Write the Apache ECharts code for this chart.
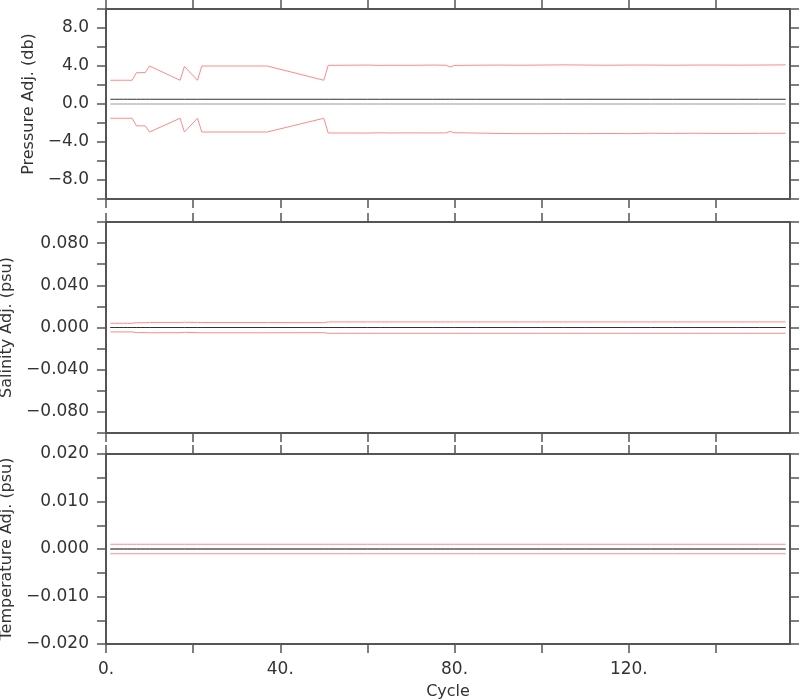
<!DOCTYPE html>
<html>
<head>
<meta charset="utf-8">
<script src="https://cdn.jsdelivr.net/npm/echarts@6/dist/echarts.min.js"></script>
<style>
html,body{margin:0;padding:0;background:#fff;}
#chart{width:800px;height:700px;}
</style>
</head>
<body>
<div id="chart"></div>
<script>
// ---- data ----
const cycles = [1,2,3,4,5,6,7,8,9,10,17,18,21,22,37,50,51,55,60,63,65,70,75,78,79,80,85,90,95,100,105,110,115,120,125,130,135,140,145,150,156];

const pressureAdj = [0.5,0.5,0.5,0.5,0.5,0.5,0.5,0.5,0.5,0.5,0.5,0.5,0.5,0.5,0.5,0.5,0.5,0.5,0.5,0.5,0.5,0.5,0.5,0.5,0.5,0.5,0.5,0.5,0.5,0.5,0.5,0.5,0.5,0.5,0.5,0.5,0.5,0.5,0.5,0.5,0.5];
const pressureUpper = [2.5,2.5,2.5,2.5,2.5,2.5,3.3,3.3,3.3,4.0,2.5,3.95,2.5,4.0,4.0,2.5,4.07,4.08,4.1,4.06,4.08,4.07,4.1,4.08,3.9,4.06,4.08,4.1,4.08,4.1,4.12,4.1,4.08,4.1,4.1,4.08,4.1,4.1,4.09,4.1,4.12];
const pressureLower = [-1.5,-1.5,-1.5,-1.5,-1.5,-1.5,-2.3,-2.3,-2.3,-2.95,-1.5,-2.95,-1.5,-2.95,-2.95,-1.5,-3.05,-3.05,-3.06,-3.03,-3.05,-3.04,-3.05,-3.04,-2.9,-3.02,-3.06,-3.1,-3.12,-3.12,-3.11,-3.12,-3.1,-3.12,-3.08,-3.1,-3.08,-3.1,-3.1,-3.09,-3.08];

const salinityAdj = [0,0,0,0,0,0,0,0,0,0,0,0,0,0,0,0,0,0,0,0,0,0,0,0,0,0,0,0,0,0,0,0,0,0,0,0,0,0,0,0,0];
const salinityUpper = [0.004,0.004,0.004,0.004,0.004,0.004,0.0045,0.0045,0.0045,0.0048,0.0048,0.005,0.0048,0.0047,0.0047,0.0046,0.0053,0.0053,0.0053,0.0053,0.0053,0.0053,0.0053,0.0053,0.0053,0.0053,0.0053,0.0053,0.0053,0.0053,0.0053,0.0053,0.0053,0.0053,0.0053,0.0053,0.0053,0.0053,0.0053,0.0053,0.0053];
const salinityLower = [-0.0042,-0.0042,-0.0042,-0.0042,-0.0042,-0.0042,-0.0048,-0.0048,-0.0048,-0.005,-0.0049,-0.0046,-0.0049,-0.005,-0.005,-0.0049,-0.0055,-0.0055,-0.0055,-0.0055,-0.0055,-0.0055,-0.0055,-0.0055,-0.0055,-0.0055,-0.0055,-0.0055,-0.0055,-0.0055,-0.0055,-0.0055,-0.0055,-0.0055,-0.0055,-0.0055,-0.0055,-0.0055,-0.0055,-0.0055,-0.0055];

const temperatureAdj = [0,0,0,0,0,0,0,0,0,0,0,0,0,0,0,0,0,0,0,0,0,0,0,0,0,0,0,0,0,0,0,0,0,0,0,0,0,0,0,0,0];
const temperatureUpper = [0.001,0.001,0.001,0.001,0.001,0.001,0.001,0.001,0.001,0.001,0.001,0.001,0.001,0.001,0.001,0.001,0.001,0.001,0.001,0.001,0.001,0.001,0.001,0.001,0.001,0.001,0.001,0.001,0.001,0.001,0.001,0.001,0.001,0.001,0.001,0.001,0.001,0.001,0.001,0.001,0.001];
const temperatureLower = [-0.001,-0.001,-0.001,-0.001,-0.001,-0.001,-0.001,-0.001,-0.001,-0.001,-0.001,-0.001,-0.001,-0.001,-0.001,-0.001,-0.001,-0.001,-0.001,-0.001,-0.001,-0.001,-0.001,-0.001,-0.001,-0.001,-0.001,-0.001,-0.001,-0.001,-0.001,-0.001,-0.001,-0.001,-0.001,-0.001,-0.001,-0.001,-0.001,-0.001,-0.001];

// ---- ticks / labels ----
const xTicks = [0,20,40,60,80,100,120,140];
const xLabels = [0,40,80,120];
const pTicks = [-10,-8,-6,-4,-2,0,2,4,6,8,10];
const pLabels = [-8,-4,0,4,8];
const sTicks = [-0.1,-0.08,-0.06,-0.04,-0.02,0,0.02,0.04,0.06,0.08,0.1];
const sLabels = [-0.08,-0.04,0,0.04,0.08];
const tTicks = [-0.02,-0.015,-0.01,-0.005,0,0.005,0.01,0.015,0.02];
const tLabels = [-0.02,-0.01,0,0.01,0.02];

const yTitles = ['Pressure Adj. (db)','Salinity Adj. (psu)','Temperature Adj. (psu)'];
const xTitle = 'Cycle';

// ---- styling ----
const FONT = 'DejaVu Sans';
const TXT = '#333';
const AX = '#555';
const RED = '#ff8a8a';

function fmt(v, d) {
  let s = Math.abs(v) < 1e-12 ? (0).toFixed(d) : v.toFixed(d);
  return s.replace('-', '\u2212');
}

const grids = [
  {left:106, right:10, top:9, height:190, outerBoundsMode:'none', containLabel:false},
  {left:106, right:10, top:222, height:211, outerBoundsMode:'none', containLabel:false},
  {left:106, right:10, top:454, height:190, outerBoundsMode:'none', containLabel:false}
];

const yCfg = [
  {min:-10, max:10, ticks:pTicks, labels:pLabels, dec:1, gap:61},
  {min:-0.1, max:0.1, ticks:sTicks, labels:sLabels, dec:3, gap:84},
  {min:-0.02, max:0.02, ticks:tTicks, labels:tLabels, dec:3, gap:84}
];

const xAxis = [], yAxis = [], series = [];
const lineS = {color:AX, width:2};
const tickS = {color:AX, width:1.5};

grids.forEach((g, gi) => {
  const last = gi === grids.length - 1;
  ['bottom','top'].forEach(pos => {
    xAxis.push({
      type:'value', gridIndex:gi, min:0, max:157, position:pos,
      axisLine:{show:true, onZero:false, lineStyle:lineS},
      axisTick:{show:true, inside:false, length:9, customValues:xTicks, lineStyle:tickS},
      axisLabel:{show: last && pos==='bottom', customValues:xLabels, formatter:v=>v+'.',
        margin:17, fontSize:17, fontFamily:FONT, color:TXT},
      splitLine:{show:false},
      name: (last && pos==='bottom') ? xTitle : '',
      nameLocation:'middle', nameGap:40,
      nameTextStyle:{fontSize:16, fontFamily:FONT, color:TXT}
    });
  });
  const yc = yCfg[gi];
  ['left','right'].forEach(pos => {
    yAxis.push({
      type:'value', gridIndex:gi, min:yc.min, max:yc.max, position:pos,
      axisLine:{show:true, onZero:false, lineStyle:lineS},
      axisTick:{show:true, inside:false, length:9, customValues:yc.ticks, lineStyle:tickS},
      axisLabel:{show: pos==='left', customValues:yc.labels, formatter:v=>fmt(v, yc.dec),
        margin:17, fontSize:17, fontFamily:FONT, color:TXT},
      splitLine:{show:false},
      name: pos==='left' ? yTitles[gi] : '',
      nameLocation:'middle', nameGap:yc.gap,
      nameTextStyle:{fontSize:16, fontFamily:FONT, color:TXT}
    });
  });
});

function mk(gi, vals, color, z) {
  return {
    type:'line', xAxisIndex:gi*2, yAxisIndex:gi*2,
    data: cycles.map((c,i)=>[c, vals[i]]),
    showSymbol:false, symbol:'none', silent:true, z:z,
    lineStyle:{color:color, width:1}, animation:false
  };
}

const sets = [
  [pressureAdj, pressureUpper, pressureLower],
  [salinityAdj, salinityUpper, salinityLower],
  [temperatureAdj, temperatureUpper, temperatureLower]
];
sets.forEach((s, gi) => {
  series.push(mk(gi, cycles.map(()=>0), '#999', 2));
  series.push(mk(gi, s[0], '#333', 3));
  series.push(mk(gi, s[1], RED, 4));
  series.push(mk(gi, s[2], RED, 4));
});

const chart = echarts.init(document.getElementById('chart'), null, {renderer:'canvas'});
chart.setOption({
  animation:false,
  backgroundColor:'#fff',
  grid:grids, xAxis:xAxis, yAxis:yAxis, series:series
});
</script>
</body>
</html>
